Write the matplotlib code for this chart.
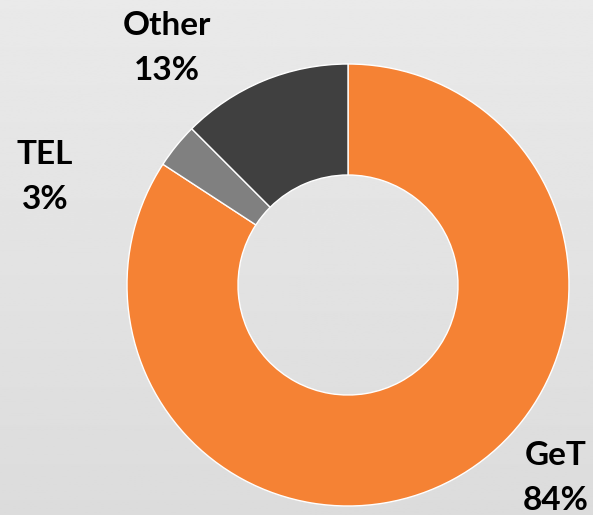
import numpy as np
import matplotlib
matplotlib.use("Agg")
import matplotlib.pyplot as plt

labels = ["GeT", "TEL", "Other"]
shares = [84.2, 3.3, 12.5]
pct_text = ["84%", "3%", "13%"]
colors = ["#F58234", "#808080", "#404040"]
label_pos = [(556, 478), (45, 177), (167, 48)]  # pixel centres of the labels

W, H = 593, 515
fig = plt.figure(figsize=(W / 100, H / 100), dpi=100)

# light grey vertical gradient behind everything
bg = fig.add_axes([0, 0, 1, 1])
grad = np.linspace(0.915, 0.862, 256).reshape(-1, 1)
bg.imshow(grad, cmap="gray", vmin=0, vmax=1, aspect="auto", extent=[0, 1, 0, 1])
bg.axis("off")

ax = fig.add_axes([0, 0, 1, 1])
ax.patch.set_alpha(0)

ax.pie(shares, colors=colors, startangle=90, counterclock=False,
       center=(348, H - 285), radius=221,
       wedgeprops=dict(width=111, edgecolor="white", linewidth=1))

# pie() resets the limits, so fix them afterwards
ax.set_xlim(0, W)
ax.set_ylim(0, H)
ax.set_aspect("equal")
ax.axis("off")

for name, p, (x, y) in zip(labels, pct_text, label_pos):
    ax.text(x, H - y, f"{name}\n{p}", ha="center", va="center",
            fontsize=24, fontweight="bold", family=["Lato", "DejaVu Sans"],
            linespacing=1.65, color="black")

fig.savefig("out.png", dpi=100)
